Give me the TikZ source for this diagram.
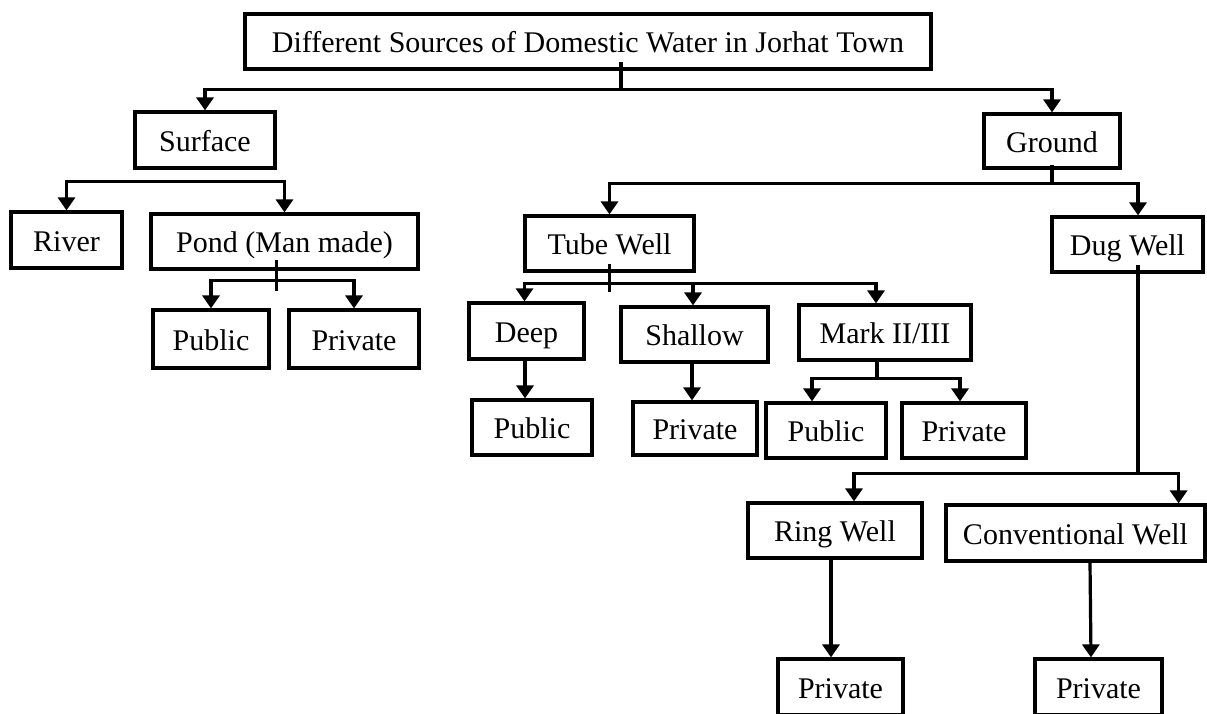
\documentclass[tikz,border=0pt]{standalone}
\usepackage{fontspec}
\setmainfont{Liberation Serif}
\usetikzlibrary{arrows.meta,calc}

\tikzset{
  box/.style 2 args={draw,line width=3.2pt,minimum width=#1pt,minimum height=#2pt,inner sep=0pt,
    text height=24pt,text depth=2pt,font=\fontsize{30}{32}\selectfont},
  link/.style={line width=3.2pt},
  arr/.style={link,-{Triangle[width=17pt,length=13pt]}}
}

\begin{document}
\begin{tikzpicture}[x=1pt,y=-1pt]
\useasboundingbox[fill=white] (0,0) rectangle (1207,713);
% boxes
\node[box={686}{55}] (title) at (588,41.5) {Different Sources of Domestic Water in Jorhat Town};
\node[box={140}{56}] (surface) at (205,140) {Surface};
\node[box={136}{54}] (ground) at (1052,141) {Ground};
\node[box={111}{56}] (river) at (66.5,240) {River};
\node[box={267}{55}] (pond) at (284.5,241.5) {Pond (Man made)};
\node[box={116}{58}] (pubpond) at (211,339) {Public};
\node[box={130}{58}] (privpond) at (354,339) {Private};
\node[box={169}{55}] (tube) at (609.5,243.5) {Tube Well};
\node[box={151}{55}] (dug) at (1127.5,244.5) {Dug Well};
\node[box={115}{56}] (deep) at (526.5,331) {Deep};
\node[box={147}{55}] (shallow) at (694.5,334.5) {Shallow};
\node[box={172}{55}] (mark) at (885,332.5) {Mark II/III};
\node[box={120}{55}] (pubdeep) at (532,427.5) {Public};
\node[box={124}{53}] (privshallow) at (695,428.5) {Private};
\node[box={120}{55}] (pubmark) at (826,430.5) {Public};
\node[box={124}{55}] (privmark) at (964,430.5) {Private};
\node[box={174}{55}] (ring) at (835,530.5) {Ring Well};
\node[box={259}{56}] (conv) at (1075.5,533) {Conventional Well};
\node[box={125}{56}] (privring) at (840.5,687) {Private};
\node[box={127}{56}] (privconv) at (1098.5,687) {Private};

% bus points
\coordinate (t0) at ($(title.south)+(33,19)$);
\coordinate (s0) at ($(surface.south)+(0,12)$);
\coordinate (p0) at ($(pond.south)+(-8,10)$);
\coordinate (g0) at ($(ground.south)+(0,14)$);
\coordinate (w0) at ($(tube.south)+(0,11)$);
\coordinate (m0) at ($(mark.south)+(-8,17)$);
\coordinate (d0) at ($(dug.south)+(10.5,200)$);

% connectors
\draw[link] ($(title.south)+(33,-9)$) -- (t0);
\draw[arr] (t0) -| (surface.north);
\draw[arr] (t0) -| (ground.north);
\draw[arr] (s0) -| (river.north);
\draw[arr] (s0) -| (pond.north);
\draw[link] ($(pond.south)+(-8,-11)$) -- ++(0,31);
\draw[arr] (p0) -| (pubpond.north);
\draw[arr] (p0) -| (privpond.north);
\draw[link] ($(ground.south)+(0,-5)$) -- (g0);
\draw[arr] (g0) -| (tube.north);
\draw[arr] (g0) -| ([xshift=10.5pt]dug.north);
\draw[link] ($(tube.south)+(0,-9)$) -- ++(0,28);
\draw[arr] (w0) -| ([xshift=-2pt]deep.north);
\draw[arr] (w0) -| ([xshift=-1.5pt]shallow.north);
\draw[arr] (w0) -| ([xshift=-9pt]mark.north);
\draw[arr] ([xshift=-1.5pt]deep.south) -- ([xshift=-7pt]pubdeep.north);
\draw[arr] ([xshift=-2.5pt]shallow.south) -- ([xshift=-3pt]privshallow.north);
\draw[link] ([xshift=-8pt]mark.south) -- (m0);
\draw[arr] (m0) -| ([xshift=-14pt]pubmark.north);
\draw[arr] (m0) -| ([xshift=-4pt]privmark.north);
\draw[link] ($(dug.south)+(10.5,-9)$) -- (d0);
\draw[arr] (d0) -| ([xshift=19pt]ring.north);
\draw[arr] (d0) -| ([xshift=-28pt]conv.north east);
\draw[arr,line width=4.5pt] ([xshift=-4pt]ring.south) -- ([xshift=-9.5pt]privring.north);
\draw[arr] ([xshift=14.5pt]conv.south) -- ([xshift=-7.5pt]privconv.north);
\end{tikzpicture}
\end{document}
